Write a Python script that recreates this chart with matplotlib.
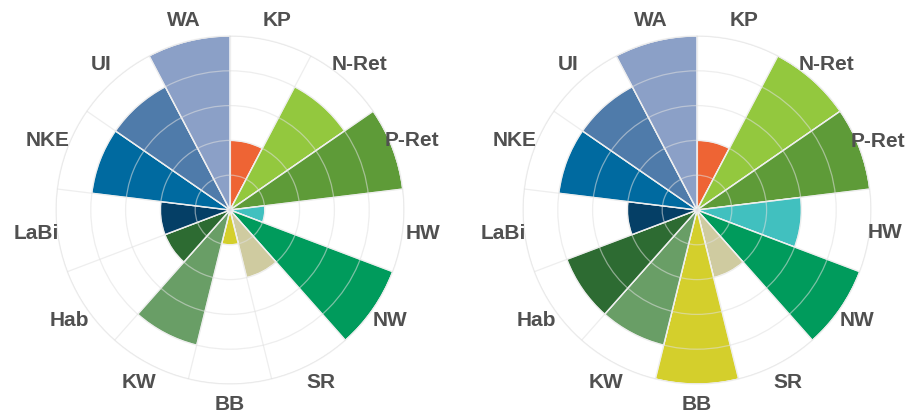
import numpy as np
import matplotlib
matplotlib.use("Agg")
import matplotlib.pyplot as plt

# categories, clockwise from the top
categories = ['KP', 'N-Ret', 'P-Ret', 'HW', 'NW', 'SR', 'BB', 'KW', 'Hab',
              'LaBi', 'NKE', 'UI', 'WA']

# scores (rings at 1..5)
left_values = [2, 4, 5, 1, 5, 2, 1, 4, 2, 2, 4, 4, 5]
right_values = [2, 5, 5, 3, 5, 2, 5, 4, 4, 2, 4, 4, 5]

colors = ['#EE6434', '#93C83E', '#5E9B38', '#41C0BF', '#009B5C', '#CFCBA0',
          '#D4CF2C', '#699E66', '#2D6B32', '#053F66', '#006AA0', '#4F7BAA',
          '#8BA0C7']

plt.rcParams['font.family'] = ['Liberation Sans', 'DejaVu Sans']

fig = plt.figure(figsize=(9.05, 4.19), dpi=100)


def rose(rect, values, label_r=None):
    ax = fig.add_axes(rect, projection='polar')
    n = len(categories)
    w = 2 * np.pi / n
    theta = np.arange(n) * w + w / 2
    ax.set_theta_zero_location('N')
    ax.set_theta_direction(-1)
    ax.bar(theta, values, width=w, color=colors, edgecolor='white',
           linewidth=1.0, zorder=2)
    ax.set_ylim(0, 5)
    # spokes on the sector borders, rings at every step
    ax.set_xticks(np.arange(n) * w)
    ax.set_xticklabels([])
    ax.set_yticks([1, 2, 3, 4, 5])
    ax.set_yticklabels([])
    ax.set_axisbelow(False)
    ax.grid(True, color='#e0e0e0', alpha=0.55, linewidth=0.9)
    ax.spines['polar'].set_color('#f0f0f0')
    ax.spines['polar'].set_linewidth(0.9)
    ax.tick_params(length=0)
    label_r = label_r or {}
    for t, lab in zip(theta, categories):
        ax.text(t, label_r.get(lab, 5.6), lab, ha='center', va='center',
                fontsize=15, fontweight='bold', color='#505050',
                clip_on=False)
    return ax


rose([56 / 905, 35 / 419, 348 / 905, 348 / 419], left_values)
# right chart sits against the figure edge, pull HW in a little so it fits
rose([523 / 905, 35 / 419, 348 / 905, 348 / 419], right_values,
     label_r={'HW': 5.43, 'P-Ret': 5.55})

fig.savefig('out.png', dpi=100)
